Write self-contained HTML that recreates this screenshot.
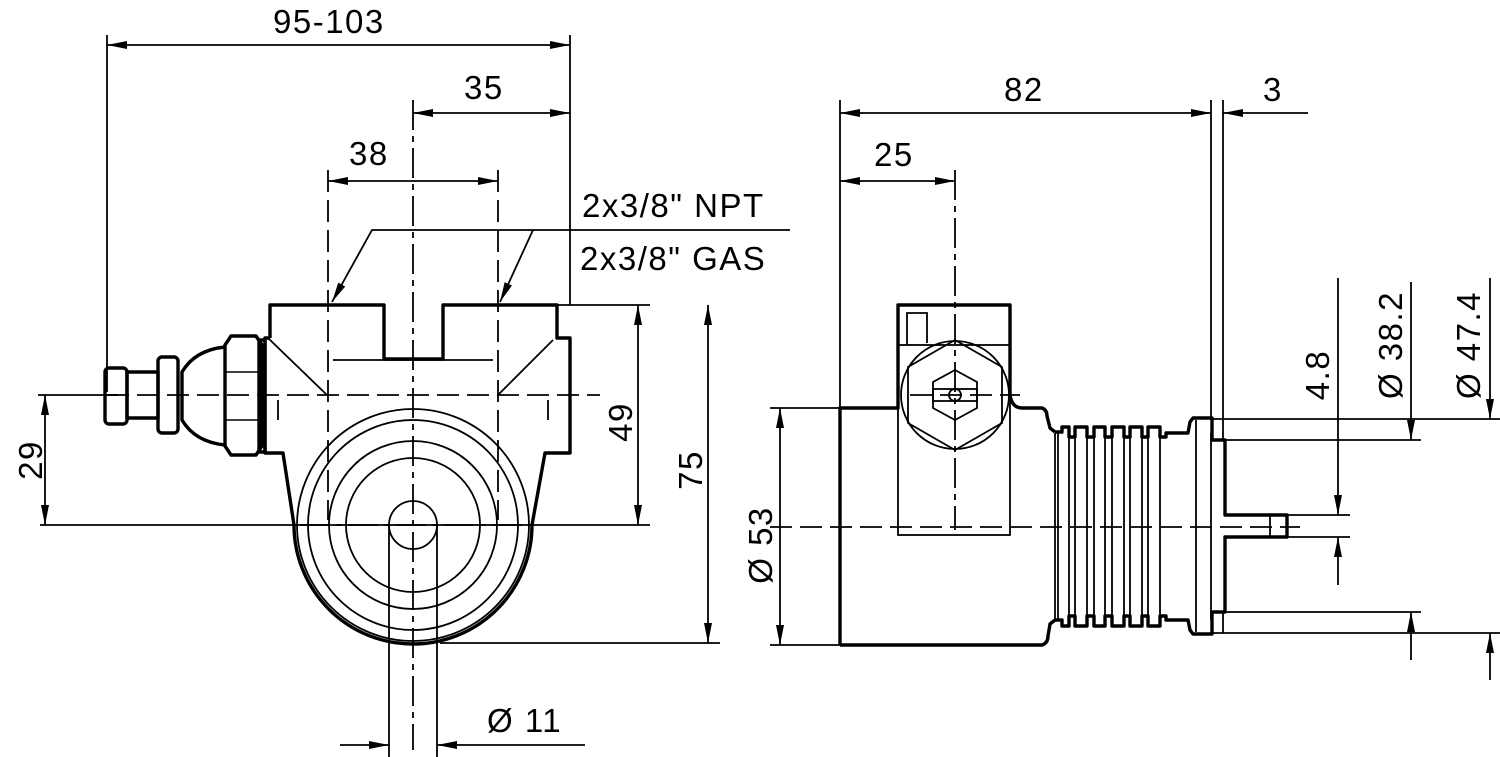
<!DOCTYPE html>
<html><head><meta charset="utf-8"><style>
html,body{margin:0;padding:0;background:#fff;}
svg{display:block}
text{font-family:"Liberation Sans","DejaVu Sans",sans-serif;font-size:33px;letter-spacing:1.5px;fill:#000}
</style></head><body>
<svg width="1500" height="757" viewBox="0 0 1500 757" xmlns="http://www.w3.org/2000/svg">
<defs>
<marker id="a" viewBox="0 0 20 8" refX="20" refY="4" markerWidth="20" markerHeight="8" markerUnits="userSpaceOnUse" orient="auto-start-reverse"><path d="M0,0 L20,4 L0,8 Z" fill="#000"/></marker>
</defs>
<g fill="none" stroke="#000" stroke-width="1.8">
<line x1="107" y1="35" x2="107" y2="392"/>
<line x1="570" y1="35" x2="570" y2="305"/>
<line x1="107" y1="45" x2="570" y2="45" marker-start="url(#a)" marker-end="url(#a)"/>
<line x1="413" y1="113" x2="570" y2="113" marker-start="url(#a)" marker-end="url(#a)"/>
<line x1="328" y1="181" x2="498" y2="181" marker-start="url(#a)" marker-end="url(#a)"/>
<line x1="413" y1="100" x2="413" y2="750" stroke-dasharray="30,6,6,6"/>
<line x1="328" y1="170" x2="328" y2="520" stroke-dasharray="22,8"/>
<line x1="498" y1="170" x2="498" y2="520" stroke-dasharray="22,8"/>
<polyline points="790,230 372,230 332,302" marker-end="url(#a)"/>
<line x1="533" y1="230" x2="500" y2="302" marker-end="url(#a)"/>
<line x1="557" y1="305" x2="650" y2="305"/>
<line x1="40" y1="525" x2="650" y2="525"/>
<line x1="440" y1="643" x2="720" y2="643"/>
<line x1="638" y1="305" x2="638" y2="525" marker-start="url(#a)" marker-end="url(#a)"/>
<line x1="708" y1="305" x2="708" y2="643" marker-start="url(#a)" marker-end="url(#a)"/>
<line x1="38" y1="395" x2="107" y2="395"/>
<line x1="45" y1="395" x2="45" y2="525" marker-start="url(#a)" marker-end="url(#a)"/>
<line x1="107" y1="395" x2="600" y2="395" stroke-dasharray="22,8"/>
<line x1="340" y1="745" x2="389" y2="745" marker-end="url(#a)"/>
<line x1="585" y1="745" x2="437" y2="745" marker-end="url(#a)"/>
<line x1="389" y1="525" x2="389" y2="757"/>
<line x1="437" y1="525" x2="437" y2="757"/>
<line x1="300" y1="525" x2="530" y2="525" stroke-dasharray="30,6,6,6"/>
<circle cx="413" cy="525" r="105"/>
<circle cx="413" cy="525" r="84"/>
<circle cx="413" cy="525" r="67"/>
<circle cx="413" cy="525" r="116"/>
<circle cx="413" cy="525" r="24"/>
<line x1="333" y1="360" x2="493" y2="360"/>
<line x1="268" y1="338" x2="327" y2="395"/>
<line x1="553" y1="340" x2="498" y2="395"/>
<line x1="278" y1="400" x2="278" y2="420"/>
<line x1="548" y1="400" x2="548" y2="420"/>
</g>
<g fill="none" stroke="#000" stroke-width="3.4" stroke-linejoin="round">
<polyline points="270,338 270,305 384,305 384,359 443,359 443,305 557,305 557,338 570,338 570,453 545,453 532,525"/>
<path d="M532,525 A119,119 0 0 1 294,525"/>
<polyline points="294,525 283,453 265,453 265,338 270,338"/>
<rect x="259" y="340" width="6" height="112"/>
<path d="M225,345 L231,336 L256,336 L262,345 L262,446 L256,455 L231,455 L225,446 Z"/>
<line x1="225" y1="372" x2="262" y2="372" stroke-width="1.6"/>
<line x1="225" y1="420" x2="262" y2="420" stroke-width="1.6"/>
<path d="M225,347 Q195,350 182,372 L182,420 Q195,442 225,445"/>
<rect x="158" y="357" width="20" height="76" rx="4"/>
<rect x="127" y="372" width="31" height="46"/>
<rect x="105" y="368" width="22" height="56" rx="4"/>
<line x1="105" y1="395" x2="118" y2="395" stroke-width="2"/>
</g>
<g fill="none" stroke="#000" stroke-width="1.8">
<line x1="840" y1="100" x2="840" y2="408"/>
<line x1="1211" y1="100" x2="1211" y2="420"/>
<line x1="1223" y1="100" x2="1223" y2="440"/>
<line x1="955" y1="170" x2="955" y2="530" stroke-dasharray="30,6,6,6"/>
<line x1="840" y1="113" x2="1211" y2="113" marker-start="url(#a)" marker-end="url(#a)"/>
<line x1="1308" y1="113" x2="1223" y2="113" marker-end="url(#a)"/>
<line x1="840" y1="181" x2="955" y2="181" marker-start="url(#a)" marker-end="url(#a)"/>
<line x1="770" y1="408" x2="840" y2="408"/>
<line x1="770" y1="645" x2="840" y2="645"/>
<line x1="780" y1="408" x2="780" y2="645" marker-start="url(#a)" marker-end="url(#a)"/>
<line x1="770" y1="527" x2="1300" y2="527" stroke-dasharray="22,8"/>
<line x1="1338" y1="278" x2="1338" y2="515" marker-end="url(#a)"/>
<line x1="1338" y1="585" x2="1338" y2="537" marker-end="url(#a)"/>
<line x1="1287" y1="515" x2="1350" y2="515"/>
<line x1="1287" y1="537" x2="1350" y2="537"/>
<line x1="1223" y1="440" x2="1421" y2="440"/>
<line x1="1223" y1="612" x2="1421" y2="612"/>
<line x1="1211" y1="419" x2="1500" y2="419"/>
<line x1="1211" y1="633" x2="1500" y2="633"/>
<line x1="1411" y1="282" x2="1411" y2="440" marker-end="url(#a)"/>
<line x1="1411" y1="660" x2="1411" y2="612" marker-end="url(#a)"/>
<line x1="1490" y1="278" x2="1490" y2="419" marker-end="url(#a)"/>
<line x1="1490" y1="680" x2="1490" y2="633" marker-end="url(#a)"/>
<line x1="1211" y1="433" x2="1211" y2="620"/>
<line x1="1223" y1="612" x2="1223" y2="633"/>
<rect x="898" y="345" width="112" height="190"/>
<polyline points="907,345 907,313 927,313 927,343"/>
<circle cx="955" cy="395" r="54"/>
<polygon points="955,340 1002,367 1002,423 955,450 908,423 908,367"/>
<polygon points="955,370 977,382 977,408 955,420 933,408 933,382"/>
<rect x="933" y="389" width="44" height="12"/>
<circle cx="955" cy="395" r="6"/>
<line x1="910" y1="395" x2="1020" y2="395" stroke-dasharray="22,8"/>
<line x1="1055" y1="433" x2="1055" y2="620"/>
<line x1="1058" y1="433" x2="1058" y2="620"/>
<line x1="1069" y1="433" x2="1069" y2="620"/>
<line x1="1075" y1="433" x2="1075" y2="620"/>
<line x1="1087" y1="433" x2="1087" y2="620"/>
<line x1="1094" y1="433" x2="1094" y2="620"/>
<line x1="1105" y1="433" x2="1105" y2="620"/>
<line x1="1112" y1="433" x2="1112" y2="620"/>
<line x1="1124" y1="433" x2="1124" y2="620"/>
<line x1="1130" y1="433" x2="1130" y2="620"/>
<line x1="1142" y1="433" x2="1142" y2="620"/>
<line x1="1148" y1="433" x2="1148" y2="620"/>
<line x1="1160" y1="433" x2="1160" y2="620"/>
<line x1="1196" y1="420" x2="1196" y2="632"/>
<line x1="1270" y1="515" x2="1270" y2="537"/>
</g>
<g fill="none" stroke="#000" stroke-width="3.4" stroke-linejoin="round">
<path d="M840,645 L840,408 L898,408 L898,305 L1010,305 L1010,395 Q1012,408 1022,408 L1042,408 Q1047,410 1047,416 L1050,428 L1055,432"/>
<path d="M840,645 L1042,645 Q1048,643 1048,636 L1050,624 L1055,620"/>
<path d="M1055,432 L1062,432 1062,427 1069,427 1069,437 1075,437 1075,427 1087,427 1087,437 1094,437 1094,427 1105,427 1105,437 1112,437 1112,427 1124,427 1124,437 1130,437 1130,427 1142,427 1142,437 1148,437 1148,427 1160,427 1160,437 1166,437 1166,433 1188,433 1190,422 1193,418 1212,418 1212,440 1225,440 1225,515 1287,515 1287,537 1225,537 1225,612 1212,612 1212,634 1193,634 1190,630 1188,620 1166,620 1166,616 1160,616 1160,626 1148,626 1148,616 1142,616 1142,626 1130,626 1130,616 1124,616 1124,626 1112,626 1112,616 1105,616 1105,626 1094,626 1094,616 1087,616 1087,626 1075,626 1075,616 1069,616 1069,626 1062,626 1062,620 1055,620"/>
</g>
<text x="273" y="33">95-103</text>
<text x="464" y="99">35</text>
<text x="349" y="165">38</text>
<text x="582" y="217">2x3/8" NPT</text>
<text x="580" y="270">2x3/8" GAS</text>
<text transform="translate(632,422) rotate(-90)" text-anchor="middle">49</text>
<text transform="translate(702,470) rotate(-90)" text-anchor="middle">75</text>
<text transform="translate(42,460) rotate(-90)" text-anchor="middle">29</text>
<text x="487" y="732">Ø 11</text>
<text x="1004" y="101">82</text>
<text x="1263" y="101">3</text>
<text x="874" y="166">25</text>
<text transform="translate(772,545) rotate(-90)" text-anchor="middle">Ø 53</text>
<text transform="translate(1329,375) rotate(-90)" text-anchor="middle">4.8</text>
<text transform="translate(1402,345) rotate(-90)" text-anchor="middle">Ø 38.2</text>
<text transform="translate(1480,345) rotate(-90)" text-anchor="middle">Ø 47.4</text>
</svg>
</body></html>
